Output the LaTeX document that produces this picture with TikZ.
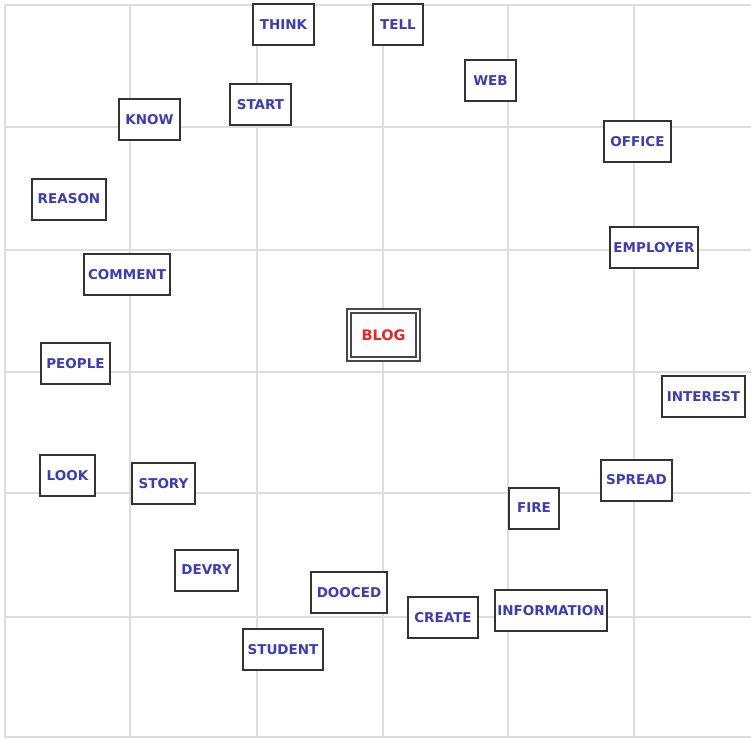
\documentclass[tikz,border=0pt]{standalone}
\usepackage{fontspec}
\setmainfont{DejaVu Sans}
\definecolor{gridgray}{HTML}{DDDDDD}
\definecolor{boxgray}{HTML}{333333}
\definecolor{wordblue}{HTML}{3C3CB8}
\definecolor{blogred}{HTML}{E8232A}
\begin{document}
\begin{tikzpicture}[x=1pt,y=-1pt,
  word/.style={draw=boxgray, line width=2pt, fill=white, rectangle, inner sep=0pt,
    minimum height=41pt, text=wordblue, font=\fontsize{13.5}{15}\selectfont\bfseries},
  blog/.style={draw=boxgray!90, line width=2pt, double=white, double distance=2pt,
    fill=white, rectangle, inner sep=0pt, minimum width=69pt, minimum height=48pt,
    text=blogred, font=\fontsize{14.5}{16}\selectfont\bfseries}]
\useasboundingbox (0,0) rectangle (751,738);
\fill[white] (0,0) rectangle (751,738);
% grid
\foreach \gx in {5,130,257,383,508,634}
  \draw[gridgray, line width=1.8pt] (\gx,5) -- (\gx,738);
\foreach \gy in {5,127,250,372,493,617,737}
  \draw[gridgray, line width=1.8pt] (5,\gy) -- (751,\gy);
% nodes
\node[word, minimum width=61pt] (think) at (283.5,25) {THINK};
\node[word, minimum width=50pt] (tell) at (398,25) {TELL};
\node[word, minimum width=51pt] (web) at (490.5,80.5) {WEB};
\node[word, minimum width=61pt] (start) at (260.5,104.5) {START};
\node[word, minimum width=61pt] (know) at (149.5,120) {KNOW};
\node[word, minimum width=67pt] (office) at (637.5,141.5) {OFFICE};
\node[word, minimum width=74pt] (reason) at (69,199) {REASON};
\node[word, minimum width=88pt] (employer) at (654,247.5) {EMPLOYER};
\node[word, minimum width=86pt] (comment) at (127,274.5) {COMMENT};
\node[blog] (blogn) at (383.5,335) {BLOG};
\node[word, minimum width=69pt] (people) at (75.5,363.5) {PEOPLE};
\node[word, minimum width=83pt] (interest) at (703.5,396.5) {INTEREST};
\node[word, minimum width=55pt] (look) at (67.5,475.5) {LOOK};
\node[word, minimum width=63pt] (story) at (163.5,483.5) {STORY};
\node[word, minimum width=71pt] (spread) at (636.5,480) {SPREAD};
\node[word, minimum width=50pt] (fire) at (534,508) {FIRE};
\node[word, minimum width=63pt] (devry) at (206.5,570) {DEVRY};
\node[word, minimum width=76pt] (dooced) at (349,592.5) {DOOCED};
\node[word, minimum width=70pt] (create) at (443,617.5) {CREATE};
\node[word, minimum width=112pt] (information) at (551,610.5) {INFORMATION};
\node[word, minimum width=80pt] (student) at (283,649.5) {STUDENT};
\end{tikzpicture}
\end{document}
